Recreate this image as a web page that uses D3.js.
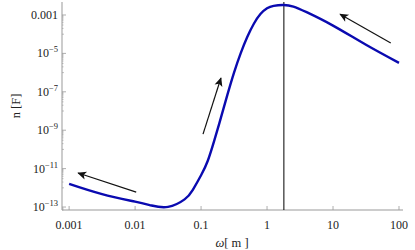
<!DOCTYPE html>
<html>
<head>
<meta charset="utf-8">
<script src="https://cdn.jsdelivr.net/npm/d3@7"></script>
<style>
  body { margin: 0; background: #fff; }
</style>
</head>
<body>
<svg id="chart" width="415" height="250"></svg>
<script>
// curve (omega, n)
var omega = [0.001, 0.00316, 0.01, 0.0178, 0.0316, 0.0562, 0.075, 0.1, 0.126, 0.158, 0.2,
             0.251, 0.316, 0.398, 0.501, 0.631, 0.794, 1.0, 1.26, 1.78, 2.51,
             3.98, 10, 31.6, 100];
var nF = [1.6e-12, 4.7e-13, 1.9e-13, 1.2e-13, 1.02e-13, 2.5e-13, 7.9e-13, 4.5e-12, 2.5e-11, 2.8e-10, 4.5e-9,
          7.1e-8, 1.0e-6, 1.0e-5, 7.1e-5, 3.5e-4, 1.12e-3, 2.24e-3, 3.0e-3, 3.3e-3, 2.75e-3,
          1.4e-3, 2.8e-4, 2.8e-5, 3.2e-6];

var xTicks = [0.001, 0.01, 0.1, 1, 10, 100];
var xTickLabels = ['0.001', '0.01', '0.1', '1', '10', '100'];
var yTicks = [1e-13, 1e-11, 1e-9, 1e-7, 1e-5, 1e-3];
var yTickLabels = [['10', '\u221213'], ['10', '\u221211'], ['10', '\u22129'],
                   ['10', '\u22127'], ['10', '\u22125'], ['0.001', '']];

var peakOmega = 1.8;

// arrows: [from omega, from n, to omega, to n]
var arrows = [
    [0.0104, 6.0e-13, 0.00137, 5.9e-12],
    [0.107, 6.3e-10, 0.2, 5.2e-7],
    [75, 3.5e-5, 12.8, 1.1e-3]
];

var serif = '"Liberation Serif", "DejaVu Serif", serif';

var svg = d3.select('#chart');

var x = d3.scaleLog().domain([7.8e-4, 115]).range([62, 403]);
var y = d3.scaleLog().domain([7e-14, 4.75e-3]).range([210, 2]);

var axisColor = '#999';

// left axis
svg.append('line')
    .attr('x1', 62).attr('x2', 62)
    .attr('y1', y.range()[0]).attr('y2', y.range()[1])
    .attr('stroke', axisColor).attr('stroke-width', 1);

// bottom axis
svg.append('line')
    .attr('x1', x.range()[0]).attr('x2', x.range()[1])
    .attr('y1', 210).attr('y2', 210)
    .attr('stroke', axisColor).attr('stroke-width', 1);

// y minor ticks (decade below each labelled one)
var yMinor = [];
yTicks.forEach(function (t) {
    var below = t / 10;
    yMinor.push({v: below, len: 2});
    for (var m = 2; m <= 9; m++) {
        yMinor.push({v: below * m, len: 1.5});
    }
});
svg.selectAll('line.ymin')
    .data(yMinor.filter(function (d) { return d.v >= y.domain()[0]; }))
    .enter().append('line')
    .attr('class', 'ymin')
    .attr('x1', 62).attr('x2', function (d) { return 62 + d.len; })
    .attr('y1', function (d) { return y(d.v); })
    .attr('y2', function (d) { return y(d.v); })
    .attr('stroke', axisColor).attr('stroke-width', 0.6);

svg.selectAll('line.ytick')
    .data(yTicks)
    .enter().append('line')
    .attr('class', 'ytick')
    .attr('x1', 62).attr('x2', 66)
    .attr('y1', function (d) { return y(d); })
    .attr('y2', function (d) { return y(d); })
    .attr('stroke', axisColor).attr('stroke-width', 0.8);

var ylab = svg.selectAll('text.ylab')
    .data(yTicks)
    .enter().append('text')
    .attr('class', 'ylab')
    .attr('x', 58)
    .attr('y', function (d) { return y(d) + 4; })
    .attr('text-anchor', 'end')
    .attr('fill', '#222')
    .attr('font-family', serif)
    .attr('font-size', 12);
ylab.append('tspan')
    .text(function (d, i) { return yTickLabels[i][0]; });
ylab.append('tspan')
    .attr('dy', -5)
    .attr('font-size', 8.5)
    .text(function (d, i) { return yTickLabels[i][1]; });

// x ticks
svg.selectAll('line.xtick')
    .data(xTicks)
    .enter().append('line')
    .attr('class', 'xtick')
    .attr('x1', function (d) { return x(d); })
    .attr('x2', function (d) { return x(d); })
    .attr('y1', 210).attr('y2', 206)
    .attr('stroke', axisColor).attr('stroke-width', 0.8);

svg.selectAll('text.xlab')
    .data(xTicks)
    .enter().append('text')
    .attr('class', 'xlab')
    .attr('x', function (d) { return x(d); })
    .attr('y', 229)
    .attr('text-anchor', 'middle')
    .attr('fill', '#222')
    .attr('font-family', serif)
    .attr('font-size', 12)
    .text(function (d, i) { return xTickLabels[i]; });

// axis titles
var xt = svg.append('text')
    .attr('x', 232).attr('y', 247)
    .attr('text-anchor', 'middle')
    .attr('fill', '#222')
    .attr('font-family', serif)
    .attr('font-size', 12.5);
xt.append('tspan').attr('font-style', 'italic').text('\u03c9');
xt.append('tspan').text('[ m ]');

svg.append('text')
    .attr('transform', 'translate(20,106) rotate(-90)')
    .attr('text-anchor', 'middle')
    .attr('fill', '#222')
    .attr('font-family', serif)
    .attr('font-size', 12.5)
    .text('n [F]');

// vertical line at the peak
svg.append('line')
    .attr('x1', x(peakOmega)).attr('x2', x(peakOmega))
    .attr('y1', 210).attr('y2', 2)
    .attr('stroke', '#000').attr('stroke-width', 1);

// curve
var line = d3.line()
    .x(function (d) { return x(d[0]); })
    .y(function (d) { return y(d[1]); })
    .curve(d3.curveNatural);

svg.append('path')
    .datum(d3.zip(omega, nF))
    .attr('d', line)
    .attr('fill', 'none')
    .attr('stroke', '#0a0ab0')
    .attr('stroke-width', 2.4);

// arrows
svg.append('defs').append('marker')
    .attr('id', 'head')
    .attr('viewBox', '0 0 10 10')
    .attr('refX', 9).attr('refY', 5)
    .attr('markerWidth', 10).attr('markerHeight', 9)
    .attr('markerUnits', 'userSpaceOnUse')
    .attr('orient', 'auto')
    .append('path')
    .attr('d', 'M0,0.5 L10,5 L0,9.5 L2.5,5 Z')
    .attr('fill', '#111');

svg.selectAll('line.arrow')
    .data(arrows)
    .enter().append('line')
    .attr('class', 'arrow')
    .attr('x1', function (d) { return x(d[0]); })
    .attr('y1', function (d) { return y(d[1]); })
    .attr('x2', function (d) { return x(d[2]); })
    .attr('y2', function (d) { return y(d[3]); })
    .attr('stroke', '#111').attr('stroke-width', 1.2)
    .attr('marker-end', 'url(#head)');
</script>
</body>
</html>
